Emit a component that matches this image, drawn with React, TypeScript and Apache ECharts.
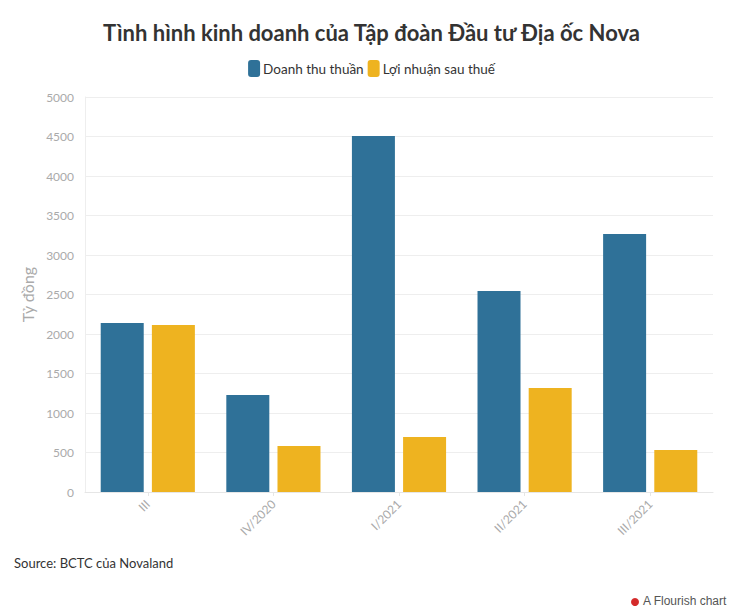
import React, { useEffect, useRef } from "react";
import * as echarts from "echarts";

const categories = ["III", "IV/2020", "I/2021", "II/2021", "III/2021"];
const revenue = [2139, 1228, 4506, 2544, 3266];
const profit = [2114, 582, 696, 1316, 532];
const seriesNames = ["Doanh thu thuần", "Lợi nhuận sau thuế"];

export default function App() {
  const ref = useRef<HTMLDivElement>(null);
  useEffect(() => {
    const chart = echarts.init(ref.current!, null, { renderer: "svg" });
    const font = "'Source Sans Pro', Lato, 'Noto Sans', sans-serif";
    chart.setOption({
      animation: false,
      backgroundColor: "#fff",
      textStyle: { fontFamily: font },
      title: {
        text: "Tình hình kinh doanh của Tập đoàn Đầu tư Địa ốc Nova",
        left: "center",
        top: 16,
        textStyle: { fontSize: 22, fontWeight: "bold", color: "#333", fontFamily: font },
      },
      legend: {
        top: 55,
        left: "center",
        itemWidth: 12,
        itemHeight: 17,
        itemGap: 4,
        icon: "roundRect",
        textStyle: { fontSize: 13.5, color: "#333", padding: [0, 0, 0, -2] },
        data: seriesNames,
      },
      grid: { left: 85, right: 30, top: 97, bottom: 124 },
      xAxis: {
        type: "category",
        data: categories,
        axisLine: { lineStyle: { color: "#e6e6e6" } },
        axisTick: { show: true, alignWithLabel: true, length: 4, lineStyle: { color: "#e6e6e6" } },
        axisLabel: { rotate: 45, color: "#aaa", fontSize: 12, margin: 10 },
      },
      yAxis: {
        type: "value",
        min: 0,
        max: 5000,
        interval: 500,
        name: "Tỷ đồng",
        nameLocation: "middle",
        nameGap: 47,
        nameTextStyle: { fontSize: 16, color: "#aaa" },
        axisLine: { show: true, lineStyle: { color: "#eee" } },
        axisTick: { show: false },
        axisLabel: { color: "#aaa", fontSize: 12, margin: 11, formatter: (v: number) => String(v) },
        splitLine: { lineStyle: { color: "#eee" } },
      },
      series: [
        {
          name: seriesNames[0],
          type: "bar",
          data: revenue,
          barWidth: 43,
          barGap: "19%",
          itemStyle: { color: "#2f7198" },
        },
        {
          name: seriesNames[1],
          type: "bar",
          data: profit,
          barWidth: 43,
          itemStyle: { color: "#eeb320" },
        },
      ],
      graphic: [
        {
          type: "text",
          left: 14,
          top: 556,
          style: { text: "Source: BCTC của Novaland", fontSize: 13, fill: "#333", fontFamily: font },
        },
        {
          type: "circle",
          shape: { cx: 635, cy: 602, r: 4 },
          style: { fill: "#d42a2a" },
        },
        {
          type: "text",
          left: 643,
          top: 595,
          style: { text: "A Flourish chart", fontSize: 12, fill: "#555", fontFamily: "Arial, 'Liberation Sans', sans-serif" },
        },
      ],
    });
    return () => chart.dispose();
  }, []);
  return <div ref={ref} style={{ width: 743, height: 616, margin: -8 }} />;
}
